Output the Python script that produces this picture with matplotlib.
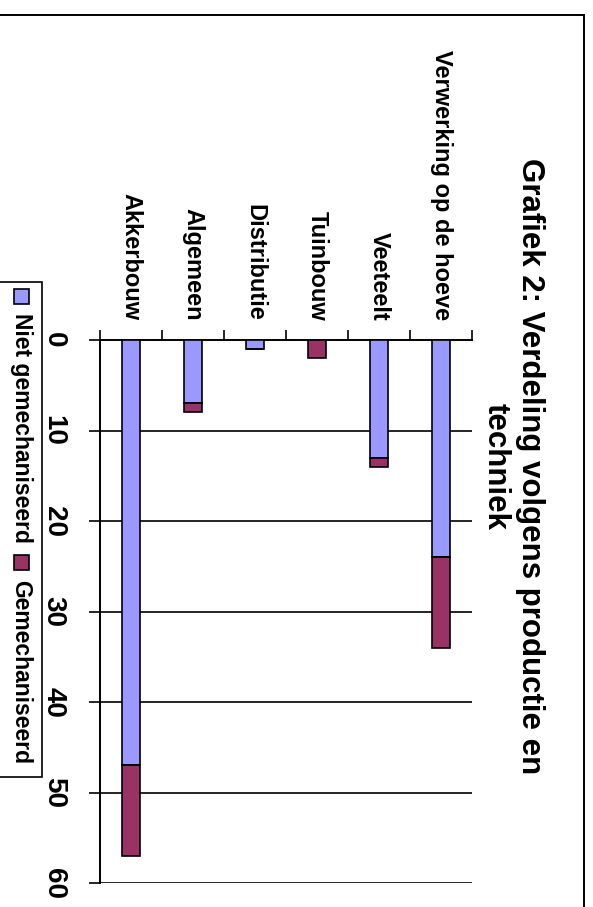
import matplotlib.pyplot as plt
from matplotlib.patches import Rectangle
import numpy as np

plt.rcParams['font.family'] = ['Liberation Sans', 'DejaVu Sans']
plt.rcParams['font.weight'] = 'bold'

# data (whole chart is drawn rotated 90 degrees clockwise, as in the source)
categories = ["Akkerbouw", "Algemeen", "Distributie", "Tuinbouw", "Veeteelt",
              "Verwerking op de hoeve"]
niet_gemechaniseerd = [47, 7, 1, 0, 13, 24]
gemechaniseerd = [10, 1, 0, 2, 1, 10]
value_ticks = [0, 10, 20, 30, 40, 50, 60]
series_names = ["Niet gemechaniseerd", "Gemechaniseerd"]
colors = ["#9999FF", "#993366"]

W, H = 593, 907
fig = plt.figure(figsize=(W / 100, H / 100), dpi=100)

def fx(x):
    return x / W

def fy(y):
    return 1 - y / H

# plot area in pixel terms: x 100..472, y 340..883
ax = fig.add_axes([fx(100), fy(883), fx(472) - fx(100), fy(340) - fy(883)])

x = np.arange(len(categories))
ax.bar(x, niet_gemechaniseerd, width=0.29, color=colors[0], edgecolor='black',
       linewidth=1.2, zorder=3)
ax.bar(x, gemechaniseerd, width=0.29, bottom=niet_gemechaniseerd, color=colors[1],
       edgecolor='black', linewidth=1.2, zorder=3)

ax.set_xlim(-0.5, len(categories) - 0.5)
ax.set_ylim(60, 0)

# value axis (left side, labels rotated)
ax.set_yticks(value_ticks)
ax.set_yticklabels([str(v) for v in value_ticks], rotation=-90, fontsize=20,
                   fontweight='bold', va='center')
ax.tick_params(axis='y', direction='out', length=8, width=1.2, pad=16)
for v in value_ticks[1:]:
    ax.axhline(v, color='black', linewidth=1.2, zorder=1)

# category axis on top
ax.xaxis.tick_top()
ax.set_xticks(x)
ax.set_xticklabels(categories, rotation=-90, fontsize=17, fontweight='bold',
                   va='bottom', ha='center')
ax.set_xticks(np.arange(-0.5, len(categories)), minor=True)
ax.tick_params(axis='x', which='major', length=0, pad=14)
ax.tick_params(axis='x', which='minor', top=True, bottom=False, direction='out',
               length=7, width=1.2)

for side in ['right', 'bottom']:
    ax.spines[side].set_visible(False)
for side in ['left', 'top']:
    ax.spines[side].set_linewidth(1.4)

# title
fig.text(fx(513), fy(466), "Grafiek 2: Verdeling volgens productie en\ntechniek",
         rotation=-90, ha='center', va='center', multialignment='center',
         fontsize=22.5, fontweight='bold', linespacing=1.2)

# chart border
fig.patches.append(Rectangle((fx(-5), fy(920)), fx(584) - fx(-5), fy(15) - fy(920),
                             transform=fig.transFigure, fill=False,
                             edgecolor='black', linewidth=1.4))

# legend (drawn by hand so it can be rotated)
fig.patches.append(Rectangle((fx(-5), fy(777)), fx(42) - fx(-5), fy(282) - fy(777),
                             transform=fig.transFigure, fill=False,
                             edgecolor='black', linewidth=1.2))
legend_pos = [(289, 313), (555, 580)]
for name, col, (py, ty) in zip(series_names, colors, legend_pos):
    fig.patches.append(Rectangle((fx(14), fy(py + 15)), fx(15), 15 / H,
                                 transform=fig.transFigure, facecolor=col,
                                 edgecolor='black', linewidth=1.2))
    fig.text(fx(21), fy(ty), name, rotation=-90, ha='center', va='top',
             fontsize=16.5, fontweight='bold')

fig.savefig("out.png", dpi=100)
